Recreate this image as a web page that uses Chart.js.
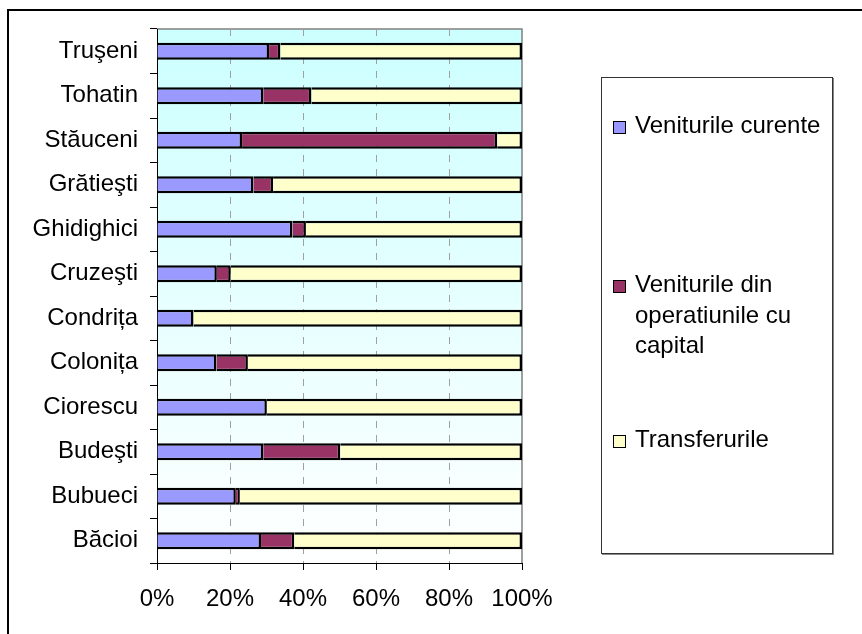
<!DOCTYPE html>
<html>
<head>
<meta charset="utf-8">
<script src="https://cdn.jsdelivr.net/npm/chart.js@4/dist/chart.umd.min.js"></script>
<style>
  html, body { margin: 0; padding: 0; background: #fff; overflow: hidden; }
  #wrap { position: relative; width: 862px; height: 634px; }
  #frame { position: absolute; left: 7px; top: 9px; width: 900px; height: 700px; border: 2px solid #000; box-sizing: border-box; }
  #chart { position: absolute; left: 0; top: 0; }
  #legend { position: absolute; left: 601px; top: 77px; width: 232px; height: 477px; box-sizing: border-box;
            border: 1px solid #333; box-shadow: 1px 1px 0 #888; background: #fff;
            font-family: "Liberation Sans", Arial, sans-serif; font-size: 24px; line-height: 30.5px; color: #000; }
  .item { position: absolute; left: 0; width: 100%; }
  .swatch { position: absolute; left: 11px; top: 11px; width: 13px; height: 13px; box-sizing: border-box; border: 1.5px solid #000; }
  .label { position: absolute; left: 33px; width: 196px; }
</style>
</head>
<body>
<div id="wrap">
  <div id="frame"></div>
  <canvas id="chart" width="862" height="634"></canvas>
  <div id="legend"></div>
</div>
<script>
// villages, bottom to top
const villages = ['Băcioi', 'Bubueci', 'Budeşti', 'Ciorescu', 'Colonița', 'Condrița',
                  'Cruzeşti', 'Ghidighici', 'Grătieşti', 'Stăuceni', 'Tohatin', 'Truşeni'];

// share of each revenue type, %
const venituriCurente = [28.5, 21.6, 29.1, 30.1, 16.3, 10.0, 16.4, 37.1, 26.4, 23.3, 29.1, 30.7];
const venituriCapital = [9.1, 1.1, 21.1, 0, 8.6, 0, 3.8, 3.7, 5.4, 69.9, 13.2, 3.1];
const transferuri     = [62.4, 77.3, 49.8, 69.9, 75.1, 90.0, 79.8, 59.2, 68.2, 6.8, 57.7, 66.2];

const xTicks = [0, 20, 40, 60, 80, 100];

const seriesNames = ['Veniturile curente', 'Veniturile din operatiunile cu capital', 'Transferurile'];
const seriesColors = ['#9999FF', '#993366', '#FFFFCC'];
const legendTops = [32, 191, 346];

const FONT = { family: '"Liberation Sans", Arial, sans-serif', size: 24 };

// gradient plot background + grey frame
const plotBackground = {
  id: 'plotBackground',
  beforeDraw(chart) {
    const { ctx, chartArea: a } = chart;
    const g = ctx.createLinearGradient(0, a.top, 0, a.bottom);
    g.addColorStop(0, '#CCFFFF');
    g.addColorStop(1, '#FFFFFF');
    ctx.save();
    ctx.fillStyle = g;
    ctx.fillRect(a.left, a.top, a.right - a.left, a.bottom - a.top);
    ctx.strokeStyle = '#808080';
    ctx.lineWidth = 1.5;
    ctx.beginPath();
    ctx.moveTo(a.left, a.top);
    ctx.lineTo(a.right, a.top);
    ctx.lineTo(a.right, a.bottom);
    ctx.stroke();
    ctx.restore();
  }
};

const series = [venituriCurente, venituriCapital, transferuri];

const chart = new Chart(document.getElementById('chart').getContext('2d'), {
  type: 'bar',
  data: {
    labels: villages,
    datasets: series.map((values, i) => ({
      label: seriesNames[i],
      data: values,
      backgroundColor: seriesColors[i],
      borderColor: '#000',
      borderWidth: 2.5,
      categoryPercentage: 1,
      barPercentage: 0.38
    }))
  },
  options: {
    indexAxis: 'y',
    responsive: false,
    devicePixelRatio: 1,
    animation: false,
    layout: { padding: { left: 0, top: 29, right: 340, bottom: 0 } },
    plugins: { legend: { display: false }, tooltip: { enabled: false } },
    scales: {
      x: {
        stacked: true,
        min: 0,
        max: 100,
        afterBuildTicks: s => { s.ticks = xTicks.map(v => ({ value: v })); },
        afterFit: s => { s.height = 71; },
        ticks: { color: '#000', font: FONT, padding: 15, callback: v => v + '%' },
        grid: { color: '#A0A0A0', tickColor: '#000', tickLength: 7, tickBorderDash: [] },
        border: { color: '#000', width: 1, dash: [7, 7] }
      },
      y: {
        stacked: true,
        reverse: true,
        afterFit: s => { s.width = 157; },
        ticks: { color: '#000', font: FONT, padding: 12 },
        grid: { drawOnChartArea: false, tickColor: '#000', tickLength: 7, offset: true },
        border: { color: '#000', width: 1 }
      }
    }
  },
  plugins: [plotBackground]
});

// legend box built from the datasets
const legend = document.getElementById('legend');
chart.data.datasets.forEach((ds, i) => {
  const item = document.createElement('div');
  item.className = 'item';
  item.style.top = legendTops[i] + 'px';
  const sw = document.createElement('span');
  sw.className = 'swatch';
  sw.style.background = ds.backgroundColor;
  const txt = document.createElement('span');
  txt.className = 'label';
  txt.textContent = ds.label;
  item.appendChild(sw);
  item.appendChild(txt);
  legend.appendChild(item);
});
</script>
</body>
</html>
